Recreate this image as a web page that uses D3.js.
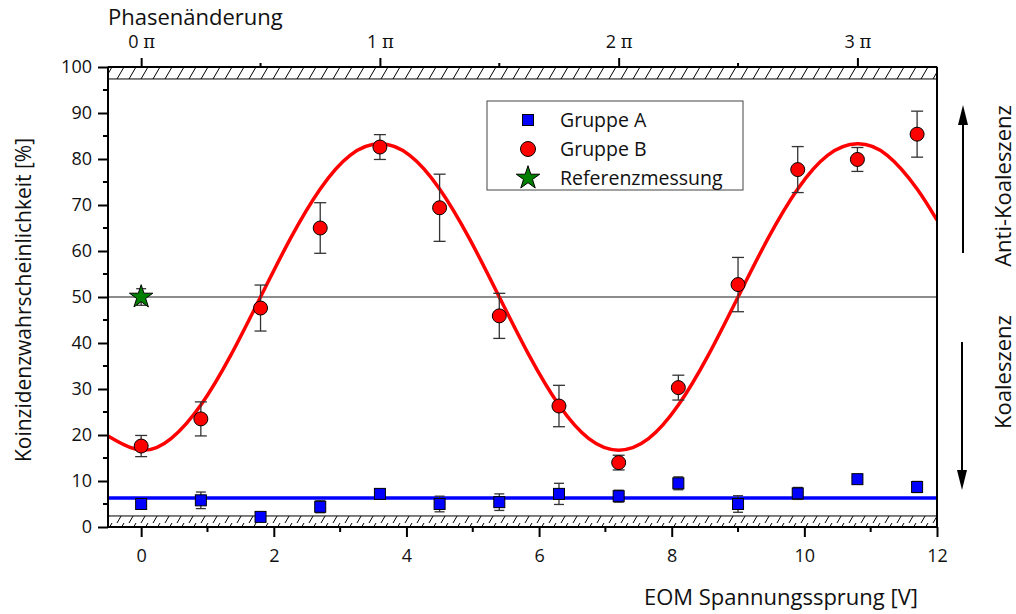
<!DOCTYPE html>
<html>
<head>
<meta charset="utf-8">
<title>Koinzidenzwahrscheinlichkeit</title>
<script src="https://d3js.org/d3.v7.min.js"></script>
<style>
  body { margin: 0; background: #fff; }
  svg { display: block; font-family: "Open Sans", "Noto Sans", sans-serif; }
  .axis path, .axis line { stroke: #000; stroke-width: 2px; }
</style>
</head>
<body>
<div id="chart"></div>
<script>
// Gruppe B (red circles) - x in V, y in %, err = half error bar
const xB = [0, 0.9, 1.8, 2.7, 3.6, 4.5, 5.4, 6.3, 7.2, 8.1, 9.0, 9.9, 10.8, 11.7];
const yB = [17.6, 23.5, 47.6, 65.0, 82.6, 69.4, 45.9, 26.3, 14.0, 30.3, 52.7, 77.7, 79.9, 85.4];
const errB = [2.3, 3.7, 5.0, 5.5, 2.7, 7.3, 4.9, 4.5, 1.6, 2.7, 5.9, 5.0, 2.6, 5.0];

// Gruppe A (blue squares)
const xA = [0, 0.9, 1.8, 2.7, 3.6, 4.5, 5.4, 6.3, 7.2, 8.1, 9.0, 9.9, 10.8, 11.7];
const yA = [5.0, 5.8, 2.2, 4.4, 7.2, 5.0, 5.4, 7.2, 6.7, 9.5, 5.0, 7.3, 10.4, 8.7];
const errA = [0.6, 1.8, 0.5, 1.3, 0.6, 1.7, 1.8, 2.3, 1.3, 1.4, 1.8, 1.3, 0.5, 1.2];

// Referenzmessung (green star)
const refX = [0];
const refY = [50];
const refErr = [1.8];

// red fit curve
const fitX = [-0.5, 0, 0.45, 0.9, 1.35, 1.8, 2.25, 2.7, 3.15, 3.6, 4.05, 4.5, 4.95, 5.4, 5.85, 6.3, 6.75, 7.2, 7.65, 8.1, 8.55, 9.0, 9.45, 9.9, 10.35, 10.8, 11.25, 11.7, 12];
const fitY = [19.8, 16.7, 19.2, 26.5, 37.3, 50, 62.7, 73.5, 80.8, 83.3, 80.8, 73.5, 62.7, 50, 37.3, 26.5, 19.2, 16.7, 19.2, 26.5, 37.3, 50, 62.7, 73.5, 80.8, 83.3, 80.8, 73.5, 66.7];

// blue mean line for Gruppe A
const meanA = 6.3;
const refLine = 50;

// hatched limits at top and bottom
const bandLow = [0, 2.4];
const bandHigh = [97.4, 100];

const xTicks = [0, 2, 4, 6, 8, 10, 12];
const yTicks = [0, 10, 20, 30, 40, 50, 60, 70, 80, 90, 100];
const phaseTicks = [0, 1, 2, 3];
const voltsPerPi = 3.6;

const legendItems = ["Gruppe A", "Gruppe B", "Referenzmessung"];

const W = 1016, H = 614;
const margin = {top: 67, right: 79, bottom: 87, left: 108};
const width = W - margin.left - margin.right;
const height = H - margin.top - margin.bottom;

const svg = d3.select("#chart").append("svg")
  .attr("width", W).attr("height", H);

const defs = svg.append("defs");
const pat = defs.append("pattern")
  .attr("id", "hatch")
  .attr("patternUnits", "userSpaceOnUse")
  .attr("width", 12).attr("height", 12);
pat.append("rect").attr("width", 12).attr("height", 12).attr("fill", "#fff");
pat.append("path")
  .attr("d", "M-3,12 L4,0 M9,12 L16,0")
  .attr("stroke", "#000").attr("stroke-width", 1);

defs.append("clipPath").attr("id", "clip")
  .append("rect").attr("width", width).attr("height", height);

const g = svg.append("g").attr("transform", `translate(${margin.left},${margin.top})`);

const x = d3.scaleLinear().domain([-0.5, 12]).range([0, width]);
const y = d3.scaleLinear().domain([0, 100]).range([height, 0]);
const xPhase = d3.scaleLinear().domain([-0.5 / voltsPerPi, 12 / voltsPerPi]).range([0, width]);

// hatched bands
[bandLow, bandHigh].forEach(b => {
  g.append("rect")
    .attr("x", 0).attr("width", width)
    .attr("y", y(b[1])).attr("height", y(b[0]) - y(b[1]))
    .attr("fill", "url(#hatch)")
    .attr("stroke", "#000").attr("stroke-width", 1);
});

// 50% line
g.append("line")
  .attr("x1", 0).attr("x2", width)
  .attr("y1", y(refLine)).attr("y2", y(refLine))
  .attr("stroke", "#666").attr("stroke-width", 1.5);

// mean line Gruppe A
g.append("line")
  .attr("x1", 0).attr("x2", width)
  .attr("y1", y(meanA)).attr("y2", y(meanA))
  .attr("stroke", "#0000ff").attr("stroke-width", 3.5);

// fit curve
const fit = fitX.map((v, i) => [v, fitY[i]]);
g.append("path")
  .attr("clip-path", "url(#clip)")
  .datum(fit)
  .attr("fill", "none")
  .attr("stroke", "#ff0000")
  .attr("stroke-width", 3.5)
  .attr("d", d3.line().x(d => x(d[0])).y(d => y(d[1])).curve(d3.curveNatural));

// error bars
function errorBars(xs, ys, es, cap, color) {
  const eg = g.append("g").attr("stroke", color).attr("stroke-width", 1.3);
  xs.forEach((v, i) => {
    const cx = x(v), hi = y(ys[i] + es[i]), lo = y(ys[i] - es[i]);
    eg.append("line").attr("x1", cx).attr("x2", cx).attr("y1", hi).attr("y2", lo);
    eg.append("line").attr("x1", cx - cap).attr("x2", cx + cap).attr("y1", hi).attr("y2", hi);
    eg.append("line").attr("x1", cx - cap).attr("x2", cx + cap).attr("y1", lo).attr("y2", lo);
  });
}
errorBars(xA, yA, errA, 5, "#333");
errorBars(xB, yB, errB, 6, "#333");
errorBars(refX, refY, refErr, 5, "#333");

// Gruppe A squares
g.selectAll(".sqA").data(xA).enter().append("rect")
  .attr("class", "sqA")
  .attr("x", (d) => x(d) - 5.5)
  .attr("y", (d, i) => y(yA[i]) - 5.5)
  .attr("width", 11).attr("height", 11)
  .attr("fill", "#0000ff").attr("stroke", "#000").attr("stroke-width", 1);

// Gruppe B circles
g.selectAll(".cB").data(xB).enter().append("circle")
  .attr("class", "cB")
  .attr("cx", d => x(d))
  .attr("cy", (d, i) => y(yB[i]))
  .attr("r", 7)
  .attr("fill", "#ff0000").attr("stroke", "#000").attr("stroke-width", 1);

// star
const star = d3.symbol().type(d3.symbolStar).size(170);
g.selectAll(".star").data(refX).enter().append("path")
  .attr("class", "star")
  .attr("transform", (d, i) => `translate(${x(d)},${y(refY[i])})`)
  .attr("d", star)
  .attr("fill", "#008000").attr("stroke", "#000").attr("stroke-width", 1);

// axes
const xMinor = d3.range(1, 12, 2);
const yMinor = d3.range(5, 100, 10);

const bottomAxis = g.append("g").attr("class", "axis").attr("transform", `translate(0,${height})`);
bottomAxis.call(d3.axisBottom(x).tickValues(xTicks).tickSize(10).tickPadding(12).tickFormat(d3.format("d")));
bottomAxis.select(".domain").attr("d", `M0,0H${width}`);
bottomAxis.selectAll(".minor").data(xMinor).enter().append("line")
  .attr("class", "minor")
  .attr("x1", d => x(d)).attr("x2", d => x(d)).attr("y1", 0).attr("y2", 5)
  .attr("stroke", "#000").attr("stroke-width", 2);

const leftAxis = g.append("g").attr("class", "axis");
leftAxis.call(d3.axisLeft(y).tickValues(yTicks).tickSize(10).tickPadding(6));
leftAxis.select(".domain").attr("d", `M0,0V${height}`);
leftAxis.selectAll(".minor").data(yMinor).enter().append("line")
  .attr("class", "minor")
  .attr("x1", 0).attr("x2", -5).attr("y1", d => y(d)).attr("y2", d => y(d))
  .attr("stroke", "#000").attr("stroke-width", 2);

[bottomAxis, leftAxis].forEach(a => {
  a.attr("font-family", null).attr("font-size", null);
  a.selectAll(".tick text").attr("fill", "#111").style("font-size", "18px");
});

const topAxis = g.append("g").attr("class", "axis");
topAxis.call(d3.axisTop(xPhase).tickValues(phaseTicks).tickSize(9).tickPadding(8).tickFormat(""));
topAxis.attr("font-family", null).attr("font-size", null);
topAxis.select(".domain").attr("d", `M0,0H${width}`);
topAxis.selectAll(".tick").append("text")
  .attr("y", -19)
  .attr("text-anchor", "middle")
  .attr("fill", "#111")
  .style("font-size", "18px")
  .each(function(d) {
    const t = d3.select(this);
    t.append("tspan").text(d + " ");
    t.append("tspan").style("font-family", "'DejaVu Serif', serif").style("font-size", "18px").text("π");
  });
topAxis.selectAll(".minor").data([0.5, 1.5, 2.5]).enter().append("line")
  .attr("class", "minor")
  .attr("x1", d => xPhase(d)).attr("x2", d => xPhase(d)).attr("y1", 0).attr("y2", -4)
  .attr("stroke", "#000").attr("stroke-width", 2);

// right border
g.append("line")
  .attr("x1", width).attr("x2", width).attr("y1", 0).attr("y2", height)
  .attr("stroke", "#000").attr("stroke-width", 2);

// axis titles
svg.append("text")
  .attr("x", margin.left).attr("y", 25)
  .style("font-size", "22px").attr("fill", "#111")
  .text("Phasenänderung");

svg.append("text")
  .attr("x", 918).attr("y", 605)
  .attr("text-anchor", "end")
  .style("font-size", "22px").attr("fill", "#111")
  .text("EOM Spannungssprung [V]");

svg.append("text")
  .attr("transform", `translate(31,${margin.top + height / 2 + 3}) rotate(-90)`)
  .attr("text-anchor", "middle")
  .style("font-size", "21px").attr("fill", "#111")
  .text("Koinzidenzwahrscheinlichkeit [%]");

// right annotations with arrows
svg.append("text")
  .attr("transform", "translate(1011,186) rotate(-90)")
  .attr("text-anchor", "middle")
  .style("font-size", "22px").attr("fill", "#111")
  .text("Anti-Koaleszenz");
svg.append("text")
  .attr("transform", "translate(1011,372) rotate(-90)")
  .attr("text-anchor", "middle")
  .style("font-size", "22px").attr("fill", "#111")
  .text("Koaleszenz");

// arrows: shaft + head
const arrows = [
  {x: 963, from: 253, to: 105},
  {x: 962, from: 342, to: 490}
];
arrows.forEach(a => {
  const dir = a.to < a.from ? 1 : -1;
  svg.append("line")
    .attr("x1", a.x).attr("x2", a.x).attr("y1", a.from).attr("y2", a.to + dir * 12)
    .attr("stroke", "#000").attr("stroke-width", 2);
  svg.append("path")
    .attr("d", `M${a.x},${a.to} L${a.x - 5},${a.to + dir * 20} L${a.x + 5},${a.to + dir * 20} Z`)
    .attr("fill", "#000");
});

// legend
const lg = svg.append("g").attr("transform", "translate(487,101)");
lg.append("rect")
  .attr("width", 256).attr("height", 89)
  .attr("fill", "#fff").attr("stroke", "#444").attr("stroke-width", 1);
const rows = lg.selectAll(".row").data(legendItems).enter().append("g")
  .attr("class", "row")
  .attr("transform", (d, i) => `translate(41,${19 + i * 29})`);
rows.each(function(d, i) {
  const r = d3.select(this);
  if (i === 0) {
    r.append("rect").attr("x", -5.5).attr("y", -5.5).attr("width", 11).attr("height", 11)
      .attr("fill", "#0000ff").attr("stroke", "#000").attr("stroke-width", 1);
  } else if (i === 1) {
    r.append("circle").attr("r", 7.5).attr("fill", "#ff0000").attr("stroke", "#000").attr("stroke-width", 1);
  } else {
    r.append("path").attr("d", star).attr("fill", "#008000").attr("stroke", "#000").attr("stroke-width", 1);
  }
  r.append("text").attr("x", 32).attr("y", 7)
    .style("font-size", "19.5px").attr("fill", "#111").text(d);
});
</script>
</body>
</html>
